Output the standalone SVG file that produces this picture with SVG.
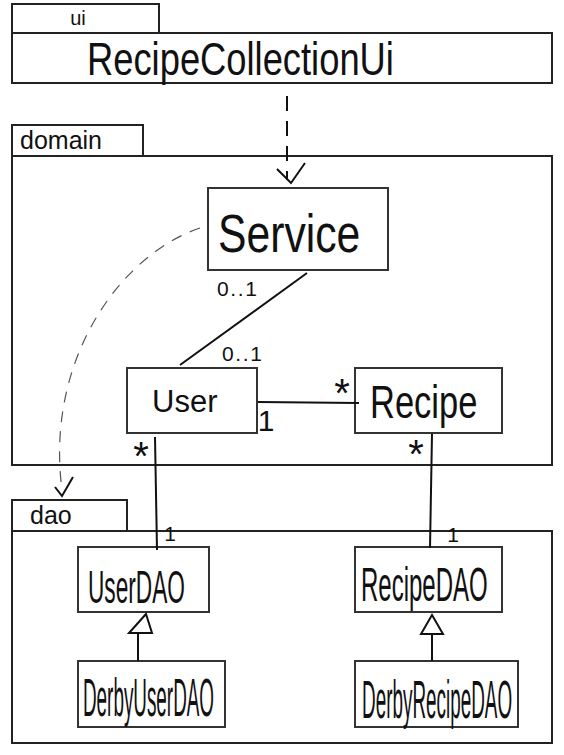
<svg xmlns="http://www.w3.org/2000/svg" width="564" height="755" viewBox="0 0 564 755">
<style>
.pkg{fill:#fff;stroke:#222;stroke-width:2}
.box{fill:#fff;stroke:#333;stroke-width:2}
.t{font-family:"Liberation Sans",Arial,sans-serif;fill:#111}
.ln{fill:none;stroke:#111;stroke-width:2}
.dash{fill:none;stroke:#111;stroke-width:2;stroke-dasharray:15 10}
.dcurve{fill:none;stroke:#555;stroke-width:1.2;stroke-dasharray:11 9}
.m{font-family:"Liberation Sans",Arial,sans-serif;fill:#111;font-size:21px}
.st{font-family:"Liberation Sans",Arial,sans-serif;fill:#111;font-size:40px;text-anchor:middle}
.one{font-family:"Liberation Sans",Arial,sans-serif;fill:#111;text-anchor:middle}
</style>
<rect width="564" height="755" fill="#fff"/>
<g id="pkg-ui">
<rect class="pkg" x="12" y="4" width="147" height="29"/>
<rect class="pkg" x="12" y="33" width="540" height="50"/>
<text class="t" x="78" y="25" font-size="20" text-anchor="middle">ui</text>
<text class="t" transform="translate(87 75) scale(0.79 1)" font-size="46">RecipeCollectionUi</text>
</g>
<g id="pkg-domain">
<rect class="pkg" x="12" y="125" width="131" height="31"/>
<rect class="pkg" x="12" y="156" width="540" height="309"/>
<text class="t" x="20" y="149" font-size="25">domain</text>
</g>
<g id="pkg-dao">
<rect class="pkg" x="12" y="500" width="115" height="31"/>
<rect class="pkg" x="12" y="531" width="540" height="212"/>
<text class="t" x="30" y="524" font-size="25">dao</text>
</g>
<g id="Service">
<rect class="box" x="208" y="188" width="180" height="82"/>
<text class="t" transform="translate(218 252) scale(0.79 1)" font-size="54">Service</text>
</g>
<g id="User">
<rect class="box" x="127" y="368" width="130" height="65"/>
<text class="t" x="152" y="412" font-size="31">User</text>
</g>
<g id="Recipe">
<rect class="box" x="355" y="368" width="147" height="65"/>
<text class="t" transform="translate(370 418) scale(0.75 1)" font-size="46">Recipe</text>
</g>
<g id="UserDAO">
<rect class="box" x="78" y="547" width="131" height="65"/>
<text class="t" transform="translate(88 603) scale(0.493 1)" font-size="46">UserDAO</text>
</g>
<g id="RecipeDAO">
<rect class="box" x="355" y="547" width="147" height="65"/>
<text class="t" transform="translate(361 601) scale(0.5 1)" font-size="48">RecipeDAO</text>
</g>
<g id="DerbyUserDAO">
<rect class="box" x="78" y="661" width="147" height="66"/>
<text class="t" transform="translate(83 716) scale(0.356 1)" font-size="53">DerbyUserDAO</text>
</g>
<g id="DerbyRecipeDAO">
<rect class="box" x="355" y="661" width="163" height="66"/>
<text class="t" transform="translate(362 718) scale(0.35 1)" font-size="54">DerbyRecipeDAO</text>
</g>
<g id="connectors">
<path class="dash" d="M287 96 L287 180"/>
<path class="ln" d="M277 169 L291 183 L305 163"/>
<path class="dcurve" d="M200 228 C120 255 45 360 62 490"/>
<path class="ln" d="M55 487 L62 496 L73 477" stroke-width="1.8"/>
<path class="ln" d="M307 273 Q256 310 180 365"/>
<text class="m" x="217" y="296" textLength="40">0..1</text>
<text class="m" x="222" y="361" textLength="40">0..1</text>
<path class="ln" d="M258 402 L359 403"/>
<text class="st" x="342" y="407">*</text>
<text class="one" x="266" y="431" font-size="30">1</text>
<path class="ln" d="M155 437 L157 550"/>
<text class="st" x="141" y="470">*</text>
<text class="one" x="170" y="541" font-size="21">1</text>
<path class="ln" d="M432 434 L430 548"/>
<text class="st" x="416" y="468">*</text>
<text class="one" x="453" y="542" font-size="21">1</text>
<path class="ln" d="M138 634 L138 661"/>
<path class="ln" d="M146 614 L129 633 L152 633 Z"/>
<path class="ln" d="M432 634 L432 661"/>
<path class="ln" d="M432 615 L421 634 L443 634 Z"/>
</g>
</svg>
